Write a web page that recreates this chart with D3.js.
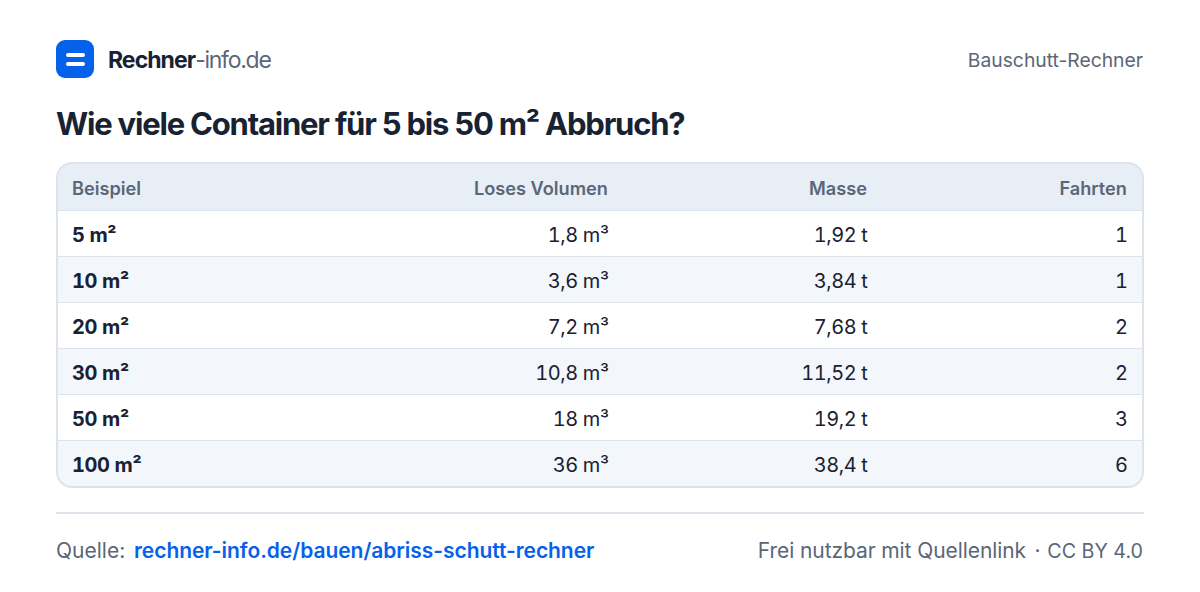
<!DOCTYPE html>
<html lang="de">
<head>
<meta charset="utf-8">
<title>Bauschutt-Rechner</title>
<script src="https://cdn.jsdelivr.net/npm/d3@7"></script>
<style>
  html, body { margin: 0; padding: 0; background: #fff; }
  svg { display: block; }
  text { font-family: Inter, "Noto Sans", sans-serif; white-space: pre; }
  text.cell { font-variant-numeric: tabular-nums; letter-spacing: -0.4px; }
</style>
</head>
<body>
<svg id="chart" width="1200" height="592"></svg>
<script>
// table contents
const columns = ["Beispiel", "Loses Volumen", "Masse", "Fahrten"];
const examples = ["5 m²", "10 m²", "20 m²", "30 m²", "50 m²", "100 m²"];
const volumes = ["1,8 m³", "3,6 m³", "7,2 m³", "10,8 m³", "18 m³", "36 m³"];
const masses = ["1,92 t", "3,84 t", "7,68 t", "11,52 t", "19,2 t", "38,4 t"];
const trips = [1, 1, 2, 2, 3, 6];

const ink = "#172233";
const grey = "#5b6678";
const blue = "#0661ea";
const rule = "#dde3ec";

const svg = d3.select("#chart");

// Logo
svg.append("rect").attr("x", 56).attr("y", 40).attr("width", 38).attr("height", 38)
  .attr("rx", 9).attr("fill", blue);
[53, 62].forEach(y => {
  svg.append("rect").attr("x", 66).attr("y", y).attr("width", 19).attr("height", 4)
    .attr("rx", 2).attr("fill", "#fff");
});

const brand = svg.append("text").attr("x", 108).attr("y", 68).attr("font-size", 23);
brand.append("tspan").attr("font-weight", 700).attr("letter-spacing", "-0.95px").attr("fill", ink).text("Rechner");
brand.append("tspan").attr("font-weight", 400).attr("letter-spacing", "-1.25px").attr("fill", grey).text("-info.de");

svg.append("text").attr("x", 1143).attr("y", 67).attr("text-anchor", "end")
  .attr("font-size", 19.3).attr("fill", grey).text("Bauschutt-Rechner");

svg.append("text").attr("x", 56).attr("y", 135)
  .attr("font-size", 31).attr("font-weight", 700).attr("letter-spacing", "-1.2px")
  .attr("fill", ink).text("Wie viele Container für 5 bis 50 m² Abbruch?");

// Table
const tLeft = 57, tRight = 1143, tTop = 163, headH = 48, tBottom = 487;

const y = d3.scaleBand().domain(examples).range([tTop + headH, tBottom]);

// text anchor x per column
const colX = d3.scaleOrdinal().domain(columns).range([72, 608, 867, 1127]);

svg.append("clipPath").attr("id", "tableClip").append("rect")
  .attr("x", tLeft).attr("y", tTop).attr("width", tRight - tLeft).attr("height", tBottom - tTop)
  .attr("rx", 15);

const table = svg.append("g").attr("clip-path", "url(#tableClip)");

table.append("rect").attr("x", tLeft).attr("y", tTop)
  .attr("width", tRight - tLeft).attr("height", headH).attr("fill", "#e7eef6");

table.selectAll("rect.row")
  .data(examples)
  .enter()
  .append("rect")
  .attr("class", "row")
  .attr("x", tLeft)
  .attr("y", d => y(d))
  .attr("width", tRight - tLeft)
  .attr("height", y.bandwidth())
  .attr("fill", (d, i) => i % 2 ? "#f3f6fb" : "#fff");

// row separators
table.selectAll("line.sep")
  .data(examples)
  .enter()
  .append("line")
  .attr("class", "sep")
  .attr("x1", tLeft).attr("x2", tRight)
  .attr("y1", d => y(d) - 0.5)
  .attr("y2", d => y(d) - 0.5)
  .attr("stroke", rule);

svg.append("rect").attr("x", tLeft).attr("y", tTop)
  .attr("width", tRight - tLeft).attr("height", tBottom - tTop)
  .attr("rx", 15).attr("fill", "none").attr("stroke", rule).attr("stroke-width", 2);

svg.selectAll("text.head")
  .data(columns)
  .enter()
  .append("text")
  .attr("class", "head")
  .attr("x", d => colX(d))
  .attr("y", tTop + 32)
  .attr("text-anchor", (d, i) => i ? "end" : "start")
  .attr("font-size", 18.2)
  .attr("font-weight", 600)
  .attr("fill", grey)
  .text(d => d);

const cells = [examples, volumes, masses, trips];
cells.forEach((values, c) => {
  svg.selectAll("text.col" + c)
    .data(values)
    .enter()
    .append("text")
    .attr("class", "cell col" + c)
    .attr("x", colX(columns[c]) + (c ? 0.5 : 0))
    .attr("y", (d, i) => y(examples[i]) + 31)
    .attr("text-anchor", c ? "end" : "start")
    .attr("font-size", 20)
    .attr("font-weight", c ? 400 : 700)
    .attr("fill", ink)
    .text(d => d);
});

// Footer
svg.append("line").attr("x1", 56).attr("x2", 1144).attr("y1", 513).attr("y2", 513)
  .attr("stroke", rule).attr("stroke-width", 2);

svg.append("text").attr("x", 56).attr("y", 558)
  .attr("font-size", 21).attr("fill", grey).text("Quelle:");
svg.append("text").attr("x", 134).attr("y", 558)
  .attr("font-size", 21).attr("font-weight", 600).attr("letter-spacing", "-0.05px").attr("fill", blue)
  .text("rechner-info.de/bauen/abriss-schutt-rechner");
svg.append("text").attr("x", 1026).attr("y", 558).attr("text-anchor", "end")
  .attr("font-size", 21).attr("letter-spacing", "-0.08px").attr("fill", grey).text("Frei nutzbar mit Quellenlink");
svg.append("text").attr("x", 1037.5).attr("y", 558).attr("text-anchor", "middle")
  .attr("font-size", 21).attr("fill", grey).text("·");
svg.append("text").attr("x", 1143).attr("y", 558).attr("text-anchor", "end")
  .attr("font-size", 19.7).attr("fill", grey).text("CC BY 4.0");
</script>
</body>
</html>
